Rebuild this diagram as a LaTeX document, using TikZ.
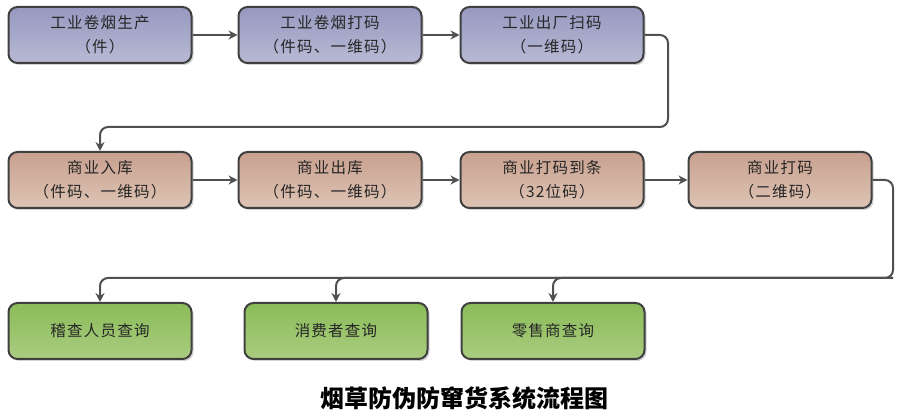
\documentclass[tikz,border=0pt]{standalone}
\usepackage{fontspec}
\setmainfont{Noto Sans CJK SC}
\usepackage{tikz}
\usetikzlibrary{arrows.meta,shadows,calc}
\definecolor{gongtop}{RGB}{150,152,192}
\definecolor{gongbot}{RGB}{184,186,212}
\definecolor{shangtop}{RGB}{200,160,143}
\definecolor{shangbot}{RGB}{222,196,180}
\definecolor{chatop}{RGB}{138,188,88}
\definecolor{chabot}{RGB}{170,204,128}
\definecolor{rimgrey}{RGB}{64,64,64}
\definecolor{wiregrey}{RGB}{80,80,80}

\tikzset{
  box/.style={draw=rimgrey,line width=2pt,rounded corners=9pt,minimum width=183pt,
    minimum height=56pt,align=center,text=black!85,
    font=\fontsize{15.5}{24}\selectfont\addfontfeatures{LetterSpace=8},
    drop shadow={shadow xshift=2pt,shadow yshift=-2pt,opacity=0.35}},
  gong/.style={box,top color=gongtop,bottom color=gongbot},
  shang/.style={box,top color=shangtop,bottom color=shangbot},
  cha/.style={box,top color=chatop,bottom color=chabot},
  wire/.style={draw=wiregrey,line width=2pt,rounded corners=8pt,
    -{Stealth[length=9pt,width=9pt]}}
}

\begin{document}
\begin{tikzpicture}[x=1pt,y=-1pt]
    \useasboundingbox (0,0) rectangle (906,411);
    % industry
    \node[gong] (g1) at (100,35) {工业卷烟生产\\（件）};
    \node[gong] (g2) at (330,35) {工业卷烟打码\\（件码、一维码）};
    \node[gong] (g3) at (552,35) {工业出厂扫码\\（一维码）};
    % commerce
    \node[shang] (s1) at (100,180) {商业入库\\（件码、一维码）};
    \node[shang] (s2) at (330,180) {商业出库\\（件码、一维码）};
    \node[shang] (s3) at (552,180) {商业打码到条\\（32位码）};
    \node[shang] (s4) at (780,180) {商业打码\\（二维码）};
    % query
    \node[cha] (q1) at (100,331) {稽查人员查询};
    \node[cha] (q2) at (336,331) {消费者查询};
    \node[cha] (q3) at (553,331) {零售商查询};

    \coordinate (turn1) at (668,127);
    \coordinate (turn2) at (893,278);

    \draw[wire] (g1) -- (g2);
    \draw[wire] (g2) -- (g3);
    \draw[wire] (g3.east) -| (turn1) -| (s1.north);
    \draw[wire] (s1) -- (s2);
    \draw[wire] (s2) -- (s3);
    \draw[wire] (s3) -- (s4);
    \draw[wire] (s4.east) -| (turn2) -| (q1.north);
    \draw[wire] (turn2) -| (q2.north);
    \draw[wire] (turn2) -| (q3.north);

    \node[font=\fontsize{24}{28}\selectfont\bfseries] (title) at (464,398) {烟草防伪防窜货系统流程图};
\end{tikzpicture}
\end{document}
